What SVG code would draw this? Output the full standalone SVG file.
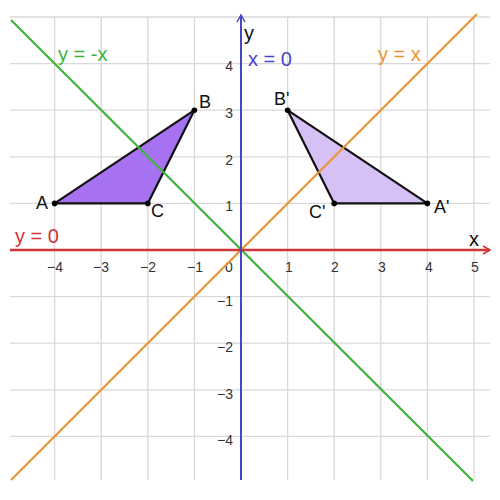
<svg xmlns="http://www.w3.org/2000/svg" width="500" height="500" viewBox="0 0 500 500">
<defs>
<style>
.grid line{stroke:#d9d9d9;stroke-width:1.3}
.tick{font-family:"Liberation Sans",Arial,sans-serif;font-size:14px;fill:#333}
.lbl{font-family:"Liberation Sans",Arial,sans-serif;font-size:18px}
.eq{font-size:20px}
.pt{fill:#000}
</style>
<marker id="arrR" markerWidth="10" markerHeight="10" refX="8" refY="5" orient="auto" markerUnits="userSpaceOnUse">
<path d="M1,1 L8,5 L1,9" fill="none" stroke="#d03434" stroke-width="1.5"/>
</marker>
<marker id="arrB" markerWidth="10" markerHeight="10" refX="8" refY="5" orient="auto" markerUnits="userSpaceOnUse">
<path d="M1,1 L8,5 L1,9" fill="none" stroke="#4646c4" stroke-width="1.5"/>
</marker>
</defs>
<rect width="500" height="500" fill="#fff"/>
<g class="grid">
<line x1="10" y1="17" x2="490" y2="17"/>
<line x1="10" y1="63.6" x2="490" y2="63.6"/>
<line x1="10" y1="110.2" x2="490" y2="110.2"/>
<line x1="10" y1="156.8" x2="490" y2="156.8"/>
<line x1="10" y1="203.4" x2="490" y2="203.4"/>
<line x1="10" y1="296.6" x2="490" y2="296.6"/>
<line x1="10" y1="343.2" x2="490" y2="343.2"/>
<line x1="10" y1="389.8" x2="490" y2="389.8"/>
<line x1="10" y1="436.4" x2="490" y2="436.4"/>
<line x1="54.6" y1="17" x2="54.6" y2="480"/>
<line x1="101.2" y1="17" x2="101.2" y2="480"/>
<line x1="147.8" y1="17" x2="147.8" y2="480"/>
<line x1="194.4" y1="17" x2="194.4" y2="480"/>
<line x1="287.6" y1="17" x2="287.6" y2="480"/>
<line x1="334.2" y1="17" x2="334.2" y2="480"/>
<line x1="380.8" y1="17" x2="380.8" y2="480"/>
<line x1="427.4" y1="17" x2="427.4" y2="480"/>
<line x1="474" y1="17" x2="474" y2="480"/>
</g>
<g id="ticks" class="tick">
<g text-anchor="middle">
<text x="55" y="272">−4</text>
<text x="101" y="272">−3</text>
<text x="148" y="272">−2</text>
<text x="195" y="272">−1</text>
<text x="229" y="272">0</text>
<text x="289" y="272">1</text>
<text x="335" y="272">2</text>
<text x="382" y="272">3</text>
<text x="429" y="272">4</text>
<text x="475" y="272">5</text>
</g>
<g text-anchor="end">
<text x="233" y="71">4</text>
<text x="233" y="118">3</text>
<text x="233" y="165">2</text>
<text x="233" y="211">1</text>
<text x="233" y="306">−1</text>
<text x="233" y="352">−2</text>
<text x="233" y="399">−3</text>
<text x="233" y="445">−4</text>
</g>
</g>
<g id="triangle-ABC">
<polygon points="54.6,203.4 194.4,110.2 147.8,203.4" fill="#a672f2" stroke="#111" stroke-width="2.2" stroke-linejoin="round"/>
</g>
<g id="triangle-ApBpCp">
<polygon points="427.4,203.4 287.6,110.2 334.2,203.4" fill="#d6c0f6" stroke="#111" stroke-width="2.2" stroke-linejoin="round"/>
</g>
<g id="connectors">
<line id="line-y-eq-negx" x1="11" y1="20" x2="473" y2="481" stroke="#3cb43c" stroke-width="2.2"/>
<line id="line-y-eq-x" x1="11" y1="480" x2="477" y2="14" stroke="#ec9434" stroke-width="2.2"/>
<line id="x-axis" x1="10" y1="250" x2="490" y2="250" stroke="#d03434" stroke-width="2.4" marker-end="url(#arrR)"/>
<line id="y-axis" x1="241" y1="480" x2="241" y2="15" stroke="#4646c4" stroke-width="2" marker-end="url(#arrB)"/>
</g>
<g id="points">
<circle class="pt" cx="54.6" cy="203.4" r="2.8"/>
<circle class="pt" cx="194.4" cy="110.2" r="2.8"/>
<circle class="pt" cx="147.8" cy="203.4" r="2.8"/>
<circle class="pt" cx="427.4" cy="203.4" r="2.8"/>
<circle class="pt" cx="287.6" cy="110.2" r="2.8"/>
<circle class="pt" cx="334.2" cy="203.4" r="2.8"/>
</g>
<g id="labels" class="lbl">
<text x="36" y="209" fill="#111">A</text>
<text x="199" y="108" fill="#111">B</text>
<text x="151" y="217" fill="#111">C</text>
<text x="274" y="105" fill="#111">B'</text>
<text x="309" y="218" fill="#111">C'</text>
<text x="434" y="213" fill="#111">A'</text>
<text class="eq" x="58" y="61" fill="#3cb43c">y = -x</text>
<text class="eq" x="378" y="61" fill="#ec9434">y = x</text>
<text class="eq" x="248" y="66" fill="#4646c4">x = 0</text>
<text class="eq" x="15" y="243" fill="#d03434">y = 0</text>
<text class="eq" x="244" y="40" fill="#111">y</text>
<text class="eq" x="469" y="246" fill="#111">x</text>
</g>
</svg>
